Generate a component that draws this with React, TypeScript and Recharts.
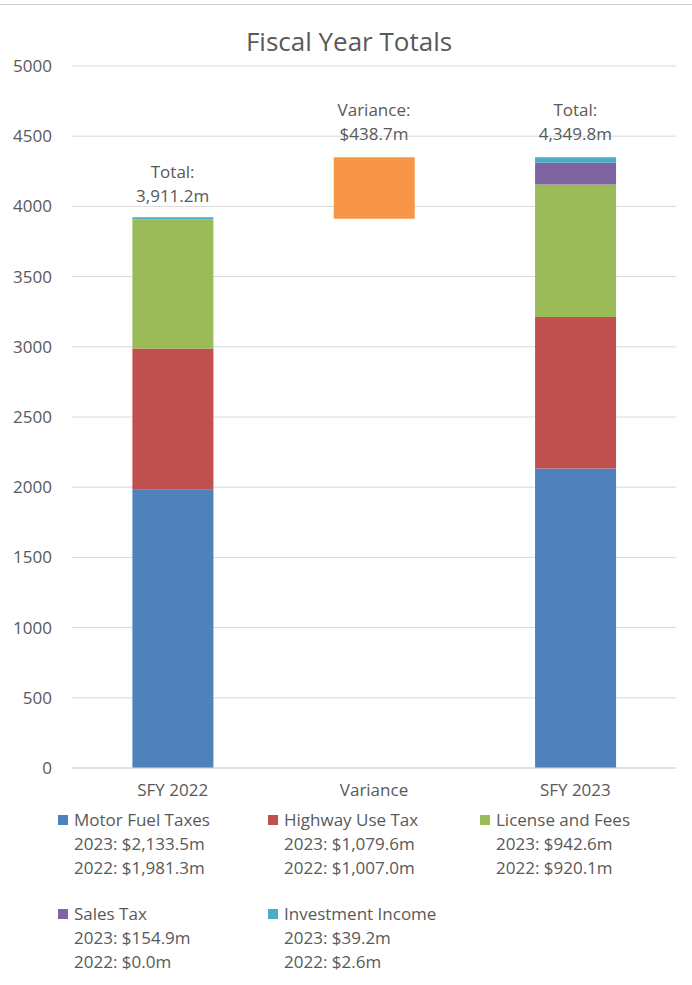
import { BarChart, Bar, XAxis, YAxis, CartesianGrid, ReferenceDot } from "recharts";

const categories = ["SFY 2022", "Variance", "SFY 2023"];
const motorFuel = [1981.3, 0, 2133.5];
const highwayUse = [1007.0, 0, 1079.6];
const licenseFees = [920.1, 0, 942.6];
const salesTax = [0, 0, 154.9];
const investment = [2.6, 0, 39.2];
// variance drawn as a floating bar: invisible base + visible piece
const varianceBase = [0, 3911.2, 0];
const varianceValue = [0, 438.7, 0];

const labelTops = [3911.2, 4349.8, 4349.8];
const labelLines = [
  ["Total:", "3,911.2m"],
  ["Variance:", "$438.7m"],
  ["Total:", "4,349.8m"],
];

const yTicks = [0, 500, 1000, 1500, 2000, 2500, 3000, 3500, 4000, 4500, 5000];

const seriesNames = ["Motor Fuel Taxes", "Highway Use Tax", "License and Fees", "Sales Tax", "Investment Income"];
const series2023 = ["$2,133.5m", "$1,079.6m", "$942.6m", "$154.9m", "$39.2m"];
const series2022 = ["$1,981.3m", "$1,007.0m", "$920.1m", "$0.0m", "$2.6m"];

const COLORS = ["#4F81BD", "#C0504D", "#9BBB59", "#8064A2", "#4BACC6"];
const VARIANCE_COLOR = "#F79646";
const TEXT = "#595959";
const GRID = "#D9D9D9";
const FONT = "'Open Sans', Lato, sans-serif";
const FS = 17;

const data = categories.map((c, i) => ({
  category: c,
  motor: motorFuel[i],
  highway: highwayUse[i],
  license: licenseFees[i],
  sales: salesTax[i],
  investment: investment[i],
  base: varianceBase[i],
  variance: varianceValue[i],
}));

function TopLabel({ viewBox, lines }: any) {
  if (!viewBox) return null;
  const cx = viewBox.x + viewBox.width / 2;
  const cy = viewBox.y + viewBox.height / 2;
  return (
    <text x={cx} y={cy - 41} textAnchor="middle" fill={TEXT} fontSize={FS} fontFamily={FONT}>
      <tspan x={cx}>{lines[0]}</tspan>
      <tspan x={cx} dy={24}>{lines[1]}</tspan>
    </text>
  );
}

const legendCols = [58, 268, 480];

export default function App() {
  return (
    <div style={{ position: "absolute", left: 0, top: 0, width: 692, height: 985, background: "#fff", fontFamily: FONT }}>
      <div style={{ position: "absolute", left: 0, top: 4, width: 692, height: 1, background: "#D0D0D0" }} />
      <div
        style={{
          position: "absolute",
          left: 0,
          top: 25,
          width: 698,
          textAlign: "center",
          fontSize: 26,
          color: TEXT,
          lineHeight: "32px",
        }}
      >
        Fiscal Year Totals
      </div>
      <div style={{ position: "absolute", left: 0, top: 0 }}>
        <BarChart
          width={692}
          height={800}
          data={data}
          margin={{ top: 66, right: 16, bottom: 0, left: 0 }}
          barCategoryGap="30%"
        >
          <CartesianGrid vertical={false} stroke={GRID} strokeWidth={1} />
          <XAxis
            dataKey="category"
            height={32}
            tickLine={false}
            axisLine={{ stroke: GRID }}
            tickSize={0}
            tickMargin={16}
            tick={{ fill: TEXT, fontSize: FS, fontFamily: FONT }}
          />
          <YAxis
            domain={[0, 5000]}
            ticks={yTicks}
            width={72}
            axisLine={false}
            tickLine={false}
            tickSize={0}
            tickMargin={20}
            tick={{ fill: TEXT, fontSize: FS, fontFamily: FONT }}
            interval={0}
          />
          <Bar dataKey="motor" stackId="s" fill={COLORS[0]} isAnimationActive={false} />
          <Bar dataKey="highway" stackId="s" fill={COLORS[1]} isAnimationActive={false} />
          <Bar dataKey="license" stackId="s" fill={COLORS[2]} isAnimationActive={false} />
          <Bar dataKey="sales" stackId="s" fill={COLORS[3]} isAnimationActive={false} />
          <Bar
            dataKey="investment"
            stackId="s"
            fill={COLORS[4]}
            minPointSize={(v: number) => (v > 0 ? 2 : 0)}
            isAnimationActive={false}
          />
          <Bar dataKey="base" stackId="s" fill="transparent" isAnimationActive={false} />
          <Bar dataKey="variance" stackId="s" fill={VARIANCE_COLOR} isAnimationActive={false} />
          {categories.map((c, i) => (
            <ReferenceDot
              key={c}
              x={c}
              y={labelTops[i]}
              r={1}
              fill="none"
              stroke="none"
              ifOverflow="visible"
              label={(props: any) => <TopLabel {...props} lines={labelLines[i]} />}
            />
          ))}
        </BarChart>
      </div>
      {seriesNames.map((name, i) => {
        const col = i % 3;
        const row = Math.floor(i / 3);
        const left = legendCols[col];
        const top = 808 + row * 94;
        return (
          <div key={name} style={{ position: "absolute", left, top, color: TEXT, fontSize: FS, lineHeight: "24px" }}>
            <div style={{ display: "flex", alignItems: "center" }}>
              <span style={{ display: "inline-block", width: 10, height: 10, background: COLORS[i], marginRight: 6 }} />
              <span>{name}</span>
            </div>
            <div style={{ paddingLeft: 16 }}>2023: {series2023[i]}</div>
            <div style={{ paddingLeft: 16 }}>2022: {series2022[i]}</div>
          </div>
        );
      })}
    </div>
  );
}
